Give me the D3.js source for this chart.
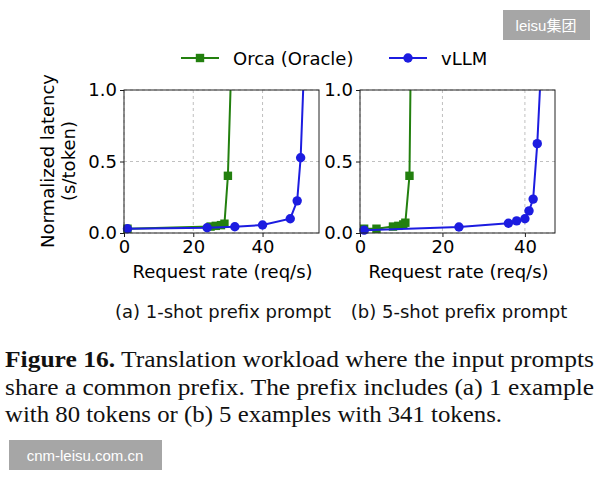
<!DOCTYPE html>
<html>
<head>
<meta charset="utf-8">
<script src="https://cdn.jsdelivr.net/npm/d3@7"></script>
<style>
  body { margin: 0; background: #fff; }
  svg text { font-family: 'DejaVu Sans', sans-serif; }
</style>
</head>
<body>
<svg id="chart" width="600" height="480"></svg>
<script>
'use strict';

// series data, [request rate, normalized latency]
const orcaA = [[1, 0.03], [25, 0.045], [26.5, 0.05], [28, 0.055], [29, 0.065], [30, 0.40], [31.5, 1.6]];
const vllmA = [[1, 0.03], [24, 0.037], [32, 0.044], [40, 0.056], [48, 0.10], [50, 0.225], [51, 0.526], [52.5, 1.5]];
const orcaB = [[1, 0.03], [4, 0.03], [8, 0.045], [9.3, 0.05], [10.5, 0.06], [11, 0.072], [12, 0.40], [12.5, 1.7]];
const vllmB = [[1, 0.02], [24, 0.042], [36, 0.068], [38, 0.085], [40, 0.10], [41, 0.155], [42, 0.237], [43, 0.625], [44.5, 1.5]];

const xTicks = [0, 20, 40];
const yTicks = [0, 0.5, 1.0];
const seriesNames = ['Orca (Oracle)', 'vLLM'];
const subCaptions = ['(a) 1-shot prefix prompt', '(b) 5-shot prefix prompt'];
const captionLines = [
  ['Figure 16.', ' Translation workload where the input prompts'],
  ['', 'share a common prefix. The prefix includes (a) 1 example'],
  ['', 'with 80 tokens or (b) 5 examples with 341 tokens.'],
];

const GREEN = '#23800f';
const BLUE = '#1c1ce0';
const FS = 18;

const svg = d3.select('#chart');

const panels = [
  { x0: 124, x1: 319, xMax: 56.3, orca: orcaA, vllm: vllmA, caption: subCaptions[0], capX: 223 },
  { x0: 360, x1: 555, xMax: 47.3, orca: orcaB, vllm: vllmB, caption: subCaptions[1], capX: 459 },
];
const plotTop = 90;
const plotBottom = 233;

panels.forEach(function(p, i) {
  const x = d3.scaleLinear().domain([0, p.xMax]).range([p.x0, p.x1]);
  const y = d3.scaleLinear().domain([0, 1]).range([plotBottom, plotTop]);
  const g = svg.append('g');

  // grid
  g.selectAll('.gx').data(xTicks).enter().append('line')
    .attr('x1', d => x(d)).attr('x2', d => x(d))
    .attr('y1', plotTop).attr('y2', plotBottom)
    .attr('stroke', '#b0b0b0').attr('stroke-width', 0.8).attr('stroke-dasharray', '3,3');
  g.selectAll('.gy').data(yTicks).enter().append('line')
    .attr('x1', p.x0).attr('x2', p.x1)
    .attr('y1', d => y(d)).attr('y2', d => y(d))
    .attr('stroke', '#b0b0b0').attr('stroke-width', 0.8).attr('stroke-dasharray', '3,3');

  // axes
  const xAxis = g.append('g').attr('transform', 'translate(0,' + plotBottom + ')')
    .call(d3.axisBottom(x).tickValues(xTicks).tickFormat(d3.format('d')).tickSize(4).tickPadding(3));
  const yAxis = g.append('g').attr('transform', 'translate(' + p.x0 + ',0)')
    .call(d3.axisLeft(y).tickValues(yTicks).tickFormat(d3.format('.1f')).tickSize(4).tickPadding(3));
  [xAxis, yAxis].forEach(function(a) {
    a.select('.domain').remove();
    a.selectAll('text').attr('font-size', FS).attr('fill', '#000').style('font-family', 'DejaVu Sans');
    a.selectAll('line').attr('stroke', '#000').attr('stroke-width', 0.9);
  });

  // clip
  const clipId = 'clip' + i;
  svg.append('clipPath').attr('id', clipId).append('rect')
    .attr('x', p.x0 - 8).attr('y', plotTop).attr('width', p.x1 - p.x0 + 8).attr('height', plotBottom - plotTop + 8);

  const line = d3.line().x(d => x(d[0])).y(d => y(d[1]));
  const plot = g.append('g').attr('clip-path', 'url(#' + clipId + ')');

  plot.append('path').datum(p.orca).attr('d', line)
    .attr('fill', 'none').attr('stroke', GREEN).attr('stroke-width', 2);
  plot.selectAll('.sq').data(p.orca).enter().append('rect')
    .attr('x', d => x(d[0]) - 4.2).attr('y', d => y(d[1]) - 4.2)
    .attr('width', 8.4).attr('height', 8.4).attr('fill', GREEN);

  plot.append('path').datum(p.vllm).attr('d', line)
    .attr('fill', 'none').attr('stroke', BLUE).attr('stroke-width', 2);
  plot.selectAll('.ci').data(p.vllm).enter().append('circle')
    .attr('cx', d => x(d[0])).attr('cy', d => y(d[1])).attr('r', 4.7).attr('fill', BLUE);

  // frame
  g.append('rect').attr('x', p.x0).attr('y', plotTop)
    .attr('width', p.x1 - p.x0).attr('height', plotBottom - plotTop)
    .attr('fill', 'none').attr('stroke', '#222').attr('stroke-width', 1);

  g.append('text').attr('x', (p.x0 + p.x1) / 2 + 1).attr('y', 278)
    .attr('text-anchor', 'middle').attr('font-size', FS).text('Request rate (req/s)');
  g.append('text').attr('x', p.capX).attr('y', 318)
    .attr('text-anchor', 'middle').attr('font-size', FS).attr('fill', '#111').text(p.caption);
});

// y label
const yl = svg.append('text').attr('transform', 'translate(54,161) rotate(-90)')
  .attr('text-anchor', 'middle').attr('font-size', FS);
yl.append('tspan').attr('x', 0).attr('dy', 0).text('Normalized latency');
yl.append('tspan').attr('x', 0).attr('dy', 21).text('(s/token)');

// legend
const legend = svg.append('g');
legend.append('line').attr('x1', 181).attr('x2', 219).attr('y1', 58).attr('y2', 58)
  .attr('stroke', GREEN).attr('stroke-width', 2);
legend.append('rect').attr('x', 195.8).attr('y', 53.8).attr('width', 8.4).attr('height', 8.4).attr('fill', GREEN);
legend.append('text').attr('x', 233).attr('y', 64.5).attr('font-size', FS).text(seriesNames[0]);
legend.append('line').attr('x1', 389).attr('x2', 427).attr('y1', 58).attr('y2', 58)
  .attr('stroke', BLUE).attr('stroke-width', 2);
legend.append('circle').attr('cx', 408).attr('cy', 58).attr('r', 4.7).attr('fill', BLUE);
legend.append('text').attr('x', 441).attr('y', 64.5).attr('font-size', FS).text(seriesNames[1]);

// figure caption
const capWidths = [589, 589, 497];
captionLines.forEach(function(l, i) {
  const t = svg.append('text').attr('x', 5).attr('y', 367 + i * 27.5)
    .style('font-family', "'Liberation Serif', 'DejaVu Serif', serif")
    .attr('font-size', 23).attr('fill', '#111')
    .attr('textLength', capWidths[i]).attr('lengthAdjust', 'spacingAndGlyphs');
  if (l[0]) t.append('tspan').attr('font-weight', 'bold').text(l[0]);
  t.append('tspan').text(l[1]);
});

// watermarks
svg.append('rect').attr('x', 503).attr('y', 10).attr('width', 87).attr('height', 30).attr('fill', '#a6a6a6');
svg.append('text').attr('x', 546).attr('y', 31).attr('text-anchor', 'middle')
  .attr('font-size', 15).attr('fill', '#fff')
  .style('font-family', "'Liberation Sans', 'Noto Sans CJK SC', sans-serif").text('leisu集团');
svg.append('rect').attr('x', 9).attr('y', 440).attr('width', 153).attr('height', 30).attr('fill', '#a6a6a6');
svg.append('text').attr('x', 85).attr('y', 461).attr('text-anchor', 'middle')
  .attr('font-size', 15).attr('fill', '#fff')
  .style('font-family', "'Liberation Sans', sans-serif").text('cnm-leisu.com.cn');
</script>
</body>
</html>
